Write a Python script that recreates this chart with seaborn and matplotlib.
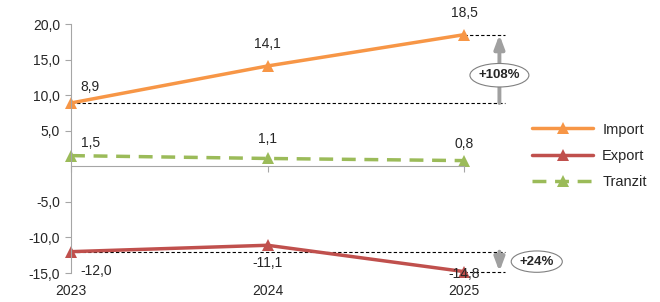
import pandas as pd
import matplotlib.pyplot as plt
import seaborn as sns
from matplotlib.patches import Ellipse

years = ['2023', '2024', '2025']
import_vals = [8.9, 14.1, 18.5]
export_vals = [-12.0, -11.1, -14.8]
tranzit_vals = [1.5, 1.1, 0.8]
series = ['Import', 'Export', 'Tranzit']
colors = {'Import': '#F79646', 'Export': '#C0504D', 'Tranzit': '#9BBB59'}
import_change = '+108%'
export_change = '+24%'

df = pd.DataFrame({
    'x': list(range(3)) * 3,
    'value': import_vals + export_vals + tranzit_vals,
    'series': ['Import'] * 3 + ['Export'] * 3 + ['Tranzit'] * 3,
})

sns.set_style('white')
plt.rcParams['font.family'] = ['Liberation Sans', 'DejaVu Sans']
plt.rcParams['font.size'] = 10

fig = plt.figure(figsize=(6.6, 3.02), dpi=100)
ax = fig.add_axes([0.1076, 0.096, 0.5955, 0.8245])

sns.lineplot(data=df, x='x', y='value', hue='series', style='series',
             hue_order=series, style_order=series, palette=colors,
             dashes={'Import': '', 'Export': '', 'Tranzit': (4, 2.5)},
             markers={'Import': '^', 'Export': '^', 'Tranzit': '^'},
             markersize=9, markeredgewidth=0, linewidth=2.5, ax=ax, clip_on=False)

ax.set_xlim(0, 2)
ax.set_ylim(-15, 20)
ax.set_xlabel('')
ax.set_ylabel('')
ax.set_yticks([20, 15, 10, 5, -5, -10, -15])
ax.set_yticklabels([f'{v:.1f}'.replace('.', ',') for v in [20, 15, 10, 5, -5, -10, -15]])
ax.set_xticks([0, 1, 2])
ax.set_xticklabels([])
for s in ['top', 'right']:
    ax.spines[s].set_visible(False)
ax.spines['left'].set_color('#A6A6A6')
ax.spines['bottom'].set_position(('data', 0))
ax.spines['bottom'].set_color('#A6A6A6')
ax.tick_params(axis='y', direction='out', length=4, color='#A6A6A6', left=True, pad=4)
ax.tick_params(axis='x', direction='out', length=4, color='#A6A6A6', bottom=True)

for i, y in enumerate(years):
    ax.text(i, -16.5, y, ha='center', va='top', fontsize=10)

# value labels
def lab(x, y, s, ha='center', dx=0, dy=0):
    ax.text(x + dx, y + dy, s.replace('.', ','), ha=ha, va='center', fontsize=10)

lab(0, import_vals[0], f'{import_vals[0]:.1f}', ha='left', dx=0.05, dy=2.3)
lab(1, import_vals[1], f'{import_vals[1]:.1f}', dy=3.1)
lab(2, import_vals[2], f'{import_vals[2]:.1f}', dy=3.1)
lab(0, tranzit_vals[0], f'{tranzit_vals[0]:.1f}', ha='left', dx=0.05, dy=1.8)
lab(1, tranzit_vals[1], f'{tranzit_vals[1]:.1f}', dy=2.8)
lab(2, tranzit_vals[2], f'{tranzit_vals[2]:.1f}', dy=2.3)
lab(0, export_vals[0], f'{export_vals[0]:.1f}', ha='left', dx=0.05, dy=-2.7)
lab(1, export_vals[1], f'{export_vals[1]:.1f}', dy=-2.5)
lab(2, export_vals[2], f'{export_vals[2]:.1f}', dy=-0.3)

# change markers
xr = 2.21
xa = 2.18
for y in [import_vals[0], import_vals[2], export_vals[0], export_vals[2]]:
    x0 = 0 if y in (import_vals[0], export_vals[0]) else 2
    ax.plot([x0, xr], [y, y], ls=(0, (3, 2)), color='black', lw=0.8, clip_on=False, zorder=1)

for a, b in [(import_vals[0], import_vals[2]), (export_vals[0], export_vals[2])]:
    ax.annotate('', xy=(xa, b), xytext=(xa, a),
                arrowprops=dict(arrowstyle='-|>,head_width=0.3,head_length=0.8',
                                color='#A0A0A0', lw=2.8, shrinkA=0, shrinkB=0),
                annotation_clip=False)

e1 = Ellipse((xa, 12.8), 0.30, 3.3, facecolor='white', edgecolor='#808080', lw=0.8, clip_on=False, zorder=5)
ax.add_patch(e1)
ax.text(xa, 12.8, import_change, ha='center', va='center', fontsize=9.5, fontweight='bold', zorder=6)
e2 = Ellipse((2.37, -13.4), 0.26, 3.0, facecolor='white', edgecolor='#808080', lw=0.8, clip_on=False, zorder=5)
ax.add_patch(e2)
ax.text(2.37, -13.4, export_change, ha='center', va='center', fontsize=9.5, fontweight='bold', zorder=6)

ax.legend(loc='center left', bbox_to_anchor=(1.14, 0.47), frameon=False, fontsize=10.5,
          handlelength=4.2, handletextpad=0.6, labelspacing=0.85)

fig.savefig('out.png', dpi=100)
